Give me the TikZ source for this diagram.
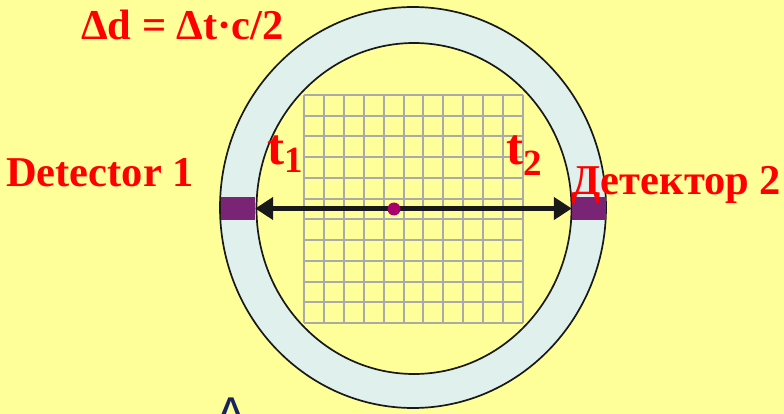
\documentclass[tikz,border=0pt]{standalone}
\usepackage{fontspec}
\setmainfont{Liberation Serif}
\newfontfamily\glyphsans{Liberation Sans}
\usetikzlibrary{arrows.meta}
\definecolor{bgc}{RGB}{255,255,153}
\definecolor{ringfill}{RGB}{224,240,236}
\definecolor{detc}{RGB}{122,36,117}
\definecolor{gridc}{RGB}{170,170,170}
\definecolor{dotc}{RGB}{170,0,110}
\definecolor{txtred}{RGB}{255,0,0}
\definecolor{navyc}{RGB}{25,35,95}
\begin{document}
\begin{tikzpicture}[x=1pt,y=-1pt,
  lbl/.style={text=txtred, font=\bfseries\fontsize{42.5}{42.5}\selectfont, inner sep=0pt, anchor=base west},
  tlbl/.style={text=txtred, font=\bfseries, inner sep=0pt, anchor=base west},
  ringline/.style={draw=black!90, line width=1.7pt},
  gridline/.style={draw=gridc, line width=2pt},
  detbox/.style={fill=detc, draw=none, minimum width=34pt, minimum height=23pt, inner sep=0pt},
  arrowline/.style={draw=black!90, line width=5pt, {Triangle[length=18pt,width=22pt]}-{Triangle[length=18pt,width=22pt]}}]
\fill[bgc] (0,0) rectangle (784,414);
\useasboundingbox (0,0) rectangle (784,414);
% ring
\fill[ringfill, even odd rule] (413,207.5) ellipse [x radius=193, y radius=200.5]
  (414,208.5) ellipse [x radius=157.5, y radius=165.5];
\draw[ringline] (413,207.5) ellipse [x radius=193, y radius=200.5];
\draw[ringline] (414,208.5) ellipse [x radius=157.5, y radius=165.5];
% grid
\foreach \i in {0,...,11} {
  \draw[gridline] ({304+\i*19.909},95) -- ({304+\i*19.909},323);
  \draw[gridline] (304,{95+\i*20.727}) -- (523,{95+\i*20.727});
}
% detectors
\node[detbox] (d1) at (238,208.5) {};
\node[detbox] (d2) at (589,208.5) {};
\draw[arrowline] (d1.east) -- (d2.west);
\node[circle, fill=dotc, minimum size=13pt, inner sep=0pt] (c) at (394,209) {};
% labels
\node[lbl] (eq) at (81,40) {Δd = Δt·c/2};
\node[lbl] (det1) at (6,187) {Detector 1};
\node[lbl] (det2) at (571,195) {Детектор 2};
\node[tlbl] (t1) at (267,165) {{\fontsize{51}{51}\selectfont t}\raisebox{-8pt}{\fontsize{37}{37}\selectfont 1}};
\node[tlbl] (t2) at (506,165) {{\fontsize{51}{51}\selectfont t}\raisebox{-10pt}{\fontsize{37}{37}\selectfont 2}};
\node[text=navyc, font=\glyphsans\bfseries\fontsize{30}{30}\selectfont, inner sep=0pt, anchor=north] (partial) at (231,398) {Δ};
\end{tikzpicture}
\end{document}
